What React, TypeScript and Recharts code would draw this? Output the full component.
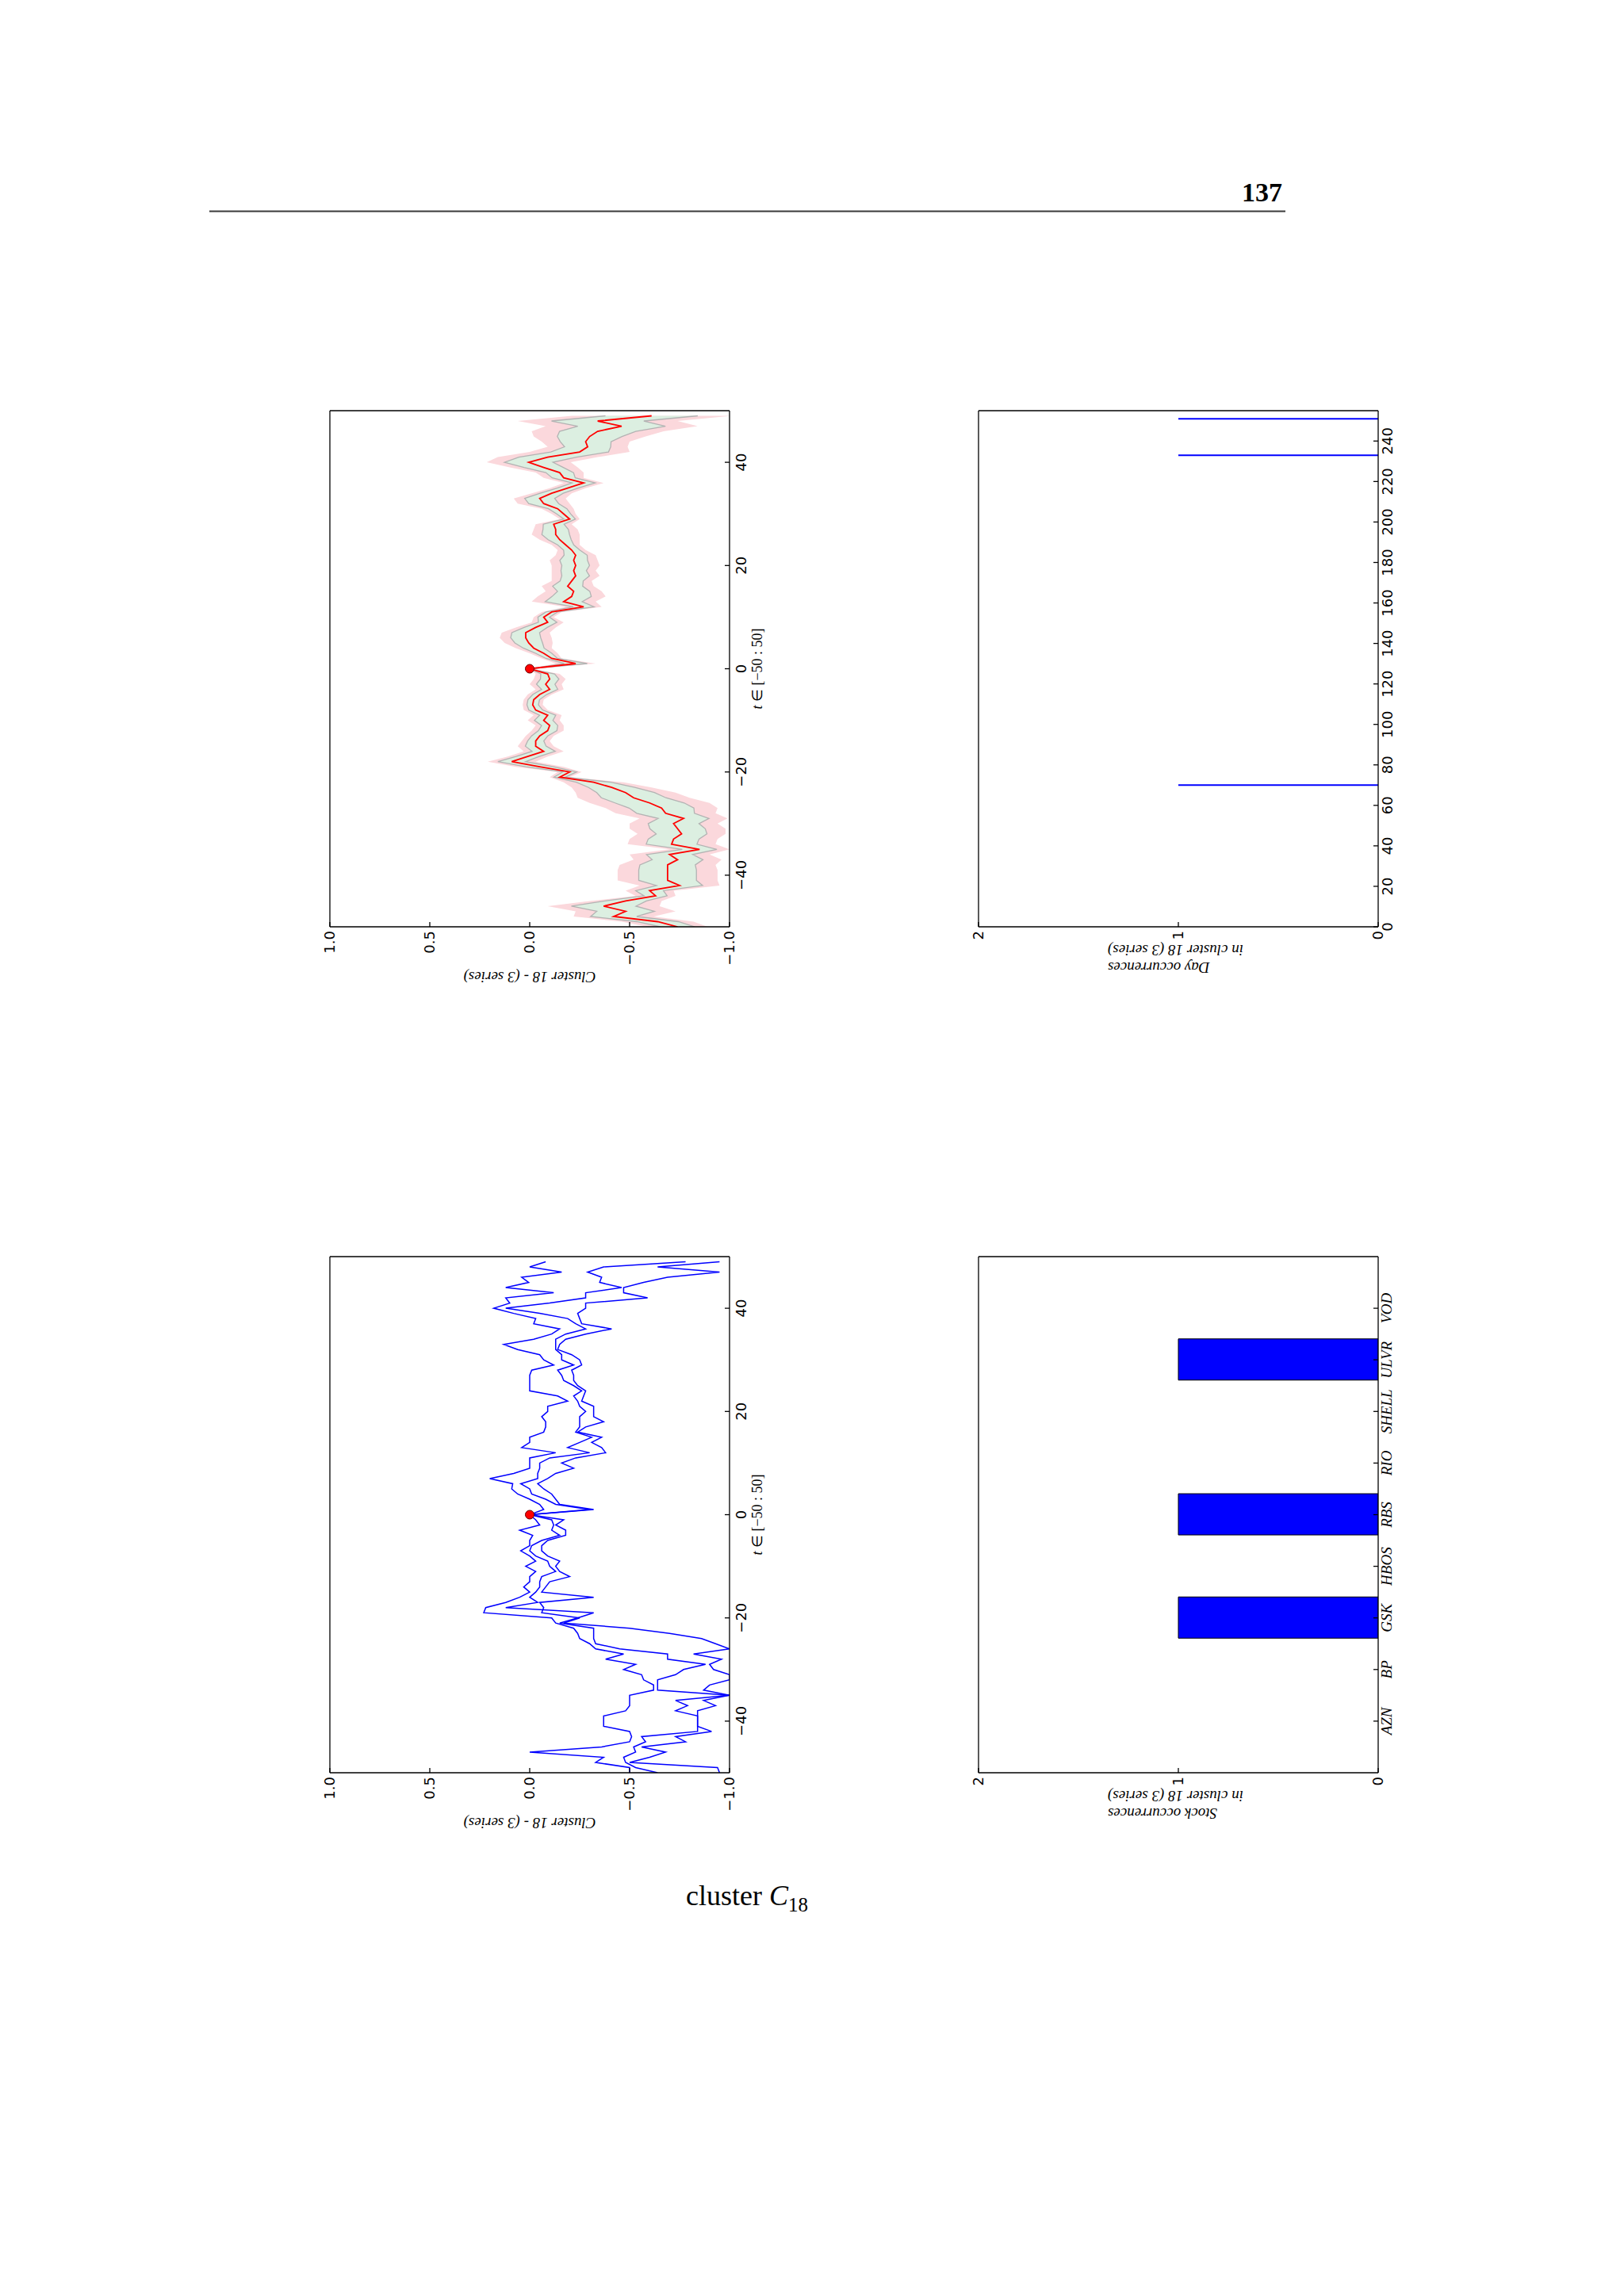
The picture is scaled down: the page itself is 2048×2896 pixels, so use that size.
import React from 'react';
import { ComposedChart, BarChart, Line, Area, Bar, XAxis, YAxis, ReferenceDot } from 'recharts';

// ---- data ----
const tSteps = [
  -50, -49, -48, -47, -46, -45, -44, -43, -42, -41,
  -40, -39, -38, -37, -36, -35, -34, -33, -32, -31,
  -30, -29, -28, -27, -26, -25, -24, -23, -22, -21,
  -20, -19, -18, -17, -16, -15, -14, -13, -12, -11,
  -10, -9, -8, -7, -6, -5, -4, -3, -2, -1,
  0, 1, 2, 3, 4, 5, 6, 7, 8, 9,
  10, 11, 12, 13, 14, 15, 16, 17, 18, 19,
  20, 21, 22, 23, 24, 25, 26, 27, 28, 29,
  30, 31, 32, 33, 34, 35, 36, 37, 38, 39,
  40, 41, 42, 43, 44, 45, 46, 47, 48, 49,
];

const clusterMean = [
  -0.74, -0.64, -0.42, -0.48, -0.37, -0.48, -0.63, -0.60, -0.75, -0.69,
  -0.69, -0.69, -0.69, -0.74, -0.70, -0.85, -0.71, -0.72, -0.76, -0.74,
  -0.72, -0.77, -0.68, -0.66, -0.60, -0.52, -0.48, -0.41, -0.32, -0.15,
  -0.20, -0.05, 0.09, 0.01, -0.07, -0.03, -0.03, -0.05, -0.09, -0.10,
  -0.07, -0.09, -0.03, -0.015, -0.02, -0.05, -0.10, -0.08, -0.10, -0.09,
  0, -0.23, -0.11, -0.07, -0.02, 0.005, 0.02, 0.02, -0.03, -0.09,
  -0.07, -0.11, -0.27, -0.17, -0.21, -0.22, -0.19, -0.21, -0.23, -0.22,
  -0.23, -0.22, -0.23, -0.21, -0.18, -0.15, -0.13, -0.13, -0.12, -0.20,
  -0.17, -0.14, -0.07, -0.05, -0.11, -0.19, -0.27, -0.17, -0.15, -0.07,
  0.005, -0.09, -0.25, -0.29, -0.28, -0.30, -0.34, -0.46, -0.34, -0.61,
];

const clusterStd = [
  0.15, 0.18, 0.20, 0.25, 0.28, 0.18, 0.10, 0.12, 0.20, 0.25,
  0.25, 0.25, 0.24, 0.22, 0.20, 0.15, 0.22, 0.22, 0.22, 0.24,
  0.22, 0.22, 0.25, 0.28, 0.30, 0.28, 0.25, 0.20, 0.15, 0.05,
  0.06, 0.12, 0.12, 0.10, 0.10, 0.09, 0.07, 0.07, 0.08, 0.07,
  0.08, 0.07, 0.06, 0.05, 0.05, 0.06, 0.07, 0.08, 0.08, 0.06,
  0, 0.10, 0.05, 0.07, 0.09, 0.12, 0.13, 0.12, 0.10, 0.08,
  0.05, 0.05, 0.09, 0.16, 0.17, 0.14, 0.13, 0.10, 0.12, 0.11,
  0.12, 0.12, 0.10, 0.07, 0.07, 0.10, 0.12, 0.11, 0.09, 0.05,
  0.06, 0.08, 0.13, 0.13, 0.10, 0.09, 0.10, 0.10, 0.12, 0.17,
  0.21, 0.25, 0.25, 0.20, 0.22, 0.28, 0.33, 0.38, 0.40, 0.40,
];

const seriesA = [
  -0.50, -0.50, -0.33, -0.37, 0.00, -0.36, -0.50, -0.51, -0.50, -0.37,
  -0.37, -0.37, -0.48, -0.50, -0.50, -0.50, -0.62, -0.62, -0.57, -0.56,
  -0.47, -0.53, -0.38, -0.47, -0.33, -0.30, -0.25, -0.24, -0.22, -0.13,
  -0.11, 0.23, 0.22, 0.12, 0.05, 0.00, 0.03, 0.00, 0.00, -0.03,
  0.02, -0.03, 0.00, 0.045, 0.00, 0.00, -0.015, 0.05, -0.05, -0.03,
  0, -0.07, -0.05, 0.00, 0.06, 0.09, 0.085, 0.20, 0.08, 0.00,
  0.00, 0.00, -0.13, 0.04, 0.00, 0.00, -0.07, -0.08, -0.08, -0.06,
  -0.09, -0.09, -0.19, -0.14, 0.00, 0.00, 0.00, 0.00, -0.01, -0.12,
  -0.07, -0.05, 0.06, 0.13, -0.02, -0.11, -0.15, -0.02, -0.03, 0.08,
  0.18, 0.10, 0.12, -0.12, 0.12, 0.005, 0.04, -0.16, 0.00, -0.08,
];

const seriesB = [
  -0.64, -0.53, -0.48, -0.47, -0.53, -0.52, -0.58, -0.56, -0.84, -0.84,
  -0.84, -0.84, -0.73, -0.79, -0.73, -1.00, -0.64, -0.64, -0.64, -0.73,
  -0.77, -0.88, -0.69, -0.69, -0.45, -0.33, -0.32, -0.32, -0.32, -0.15,
  -0.24, -0.32, 0.12, -0.04, 0.00, -0.03, -0.05, -0.05, -0.06, -0.13,
  -0.10, -0.09, -0.03, 0.00, -0.01, -0.06, -0.15, -0.11, -0.12, -0.11,
  0, -0.30, -0.13, -0.08, -0.01, 0.00, 0.045, -0.04, -0.04, -0.05,
  -0.05, -0.10, -0.30, -0.19, -0.25, -0.31, -0.23, -0.25, -0.25, -0.25,
  -0.28, -0.25, -0.24, -0.22, -0.26, -0.22, -0.17, -0.16, -0.14, -0.22,
  -0.16, -0.16, -0.13, -0.13, -0.13, -0.18, -0.28, -0.23, -0.19, -0.05,
  0.12, -0.10, -0.28, -0.28, -0.46, -0.35, -0.36, -0.29, -0.37, -0.78,
];

const seriesC = [
  -0.95, -0.94, -0.50, -0.60, -0.68, -0.56, -0.78, -0.73, -0.91, -0.84,
  -0.84, -0.84, -0.84, -0.93, -0.87, -1.00, -0.87, -0.90, -1.00, -1.00,
  -0.92, -0.90, -0.96, -0.82, -1.00, -0.93, -0.86, -0.70, -0.50, -0.17,
  -0.25, -0.06, -0.07, -0.05, -0.32, -0.06, -0.08, -0.10, -0.20, -0.15,
  -0.13, -0.15, -0.09, -0.06, -0.06, -0.09, -0.18, -0.18, -0.13, -0.17,
  0, -0.32, -0.15, -0.13, -0.11, -0.07, -0.04, -0.09, -0.13, -0.22,
  -0.16, -0.23, -0.38, -0.36, -0.31, -0.36, -0.24, -0.28, -0.37, -0.32,
  -0.32, -0.32, -0.26, -0.27, -0.28, -0.24, -0.22, -0.22, -0.21, -0.26,
  -0.25, -0.21, -0.14, -0.15, -0.18, -0.28, -0.41, -0.26, -0.25, -0.24,
  -0.28, -0.28, -0.59, -0.47, -0.47, -0.57, -0.69, -0.95, -0.64, -0.95,
];
const SERIES_COUNT = 3;

const occurrenceDays = [70, 233, 251];
const dayCounts = [1, 1, 1];

const stockNames = ['AZN', 'BP', 'GSK', 'HBOS', 'RBS', 'RIO', 'SHELL', 'ULVR', 'VOD'];
const stockCounts = [0, 0, 1, 0, 1, 0, 0, 1, 0];

const tTicks = [-40, -20, 0, 20, 40];
const valueTicks = [-1, -0.5, 0, 0.5, 1];
const dayTicks = [0, 20, 40, 60, 80, 100, 120, 140, 160, 180, 200, 220, 240];
const countTicks = [0, 1, 2];
const stockTicks = [0, 1, 2, 3, 4, 5, 6, 7, 8];

// rows for the library
const meanRows = tSteps.map((t, i) => {
  const m = clusterMean[i];
  const s = clusterStd[i];
  const se = s / Math.sqrt(SERIES_COUNT);
  return { t, mean: m, outer: [m - s, m + s], inner: [m - se, m + se], innerLo: m - se, innerHi: m + se };
});
const seriesRows = tSteps.map((t, i) => ({ t, a: seriesA[i], b: seriesB[i], c: seriesC[i] }));
const dayRows = occurrenceDays.map((d, i) => ({ day: d, count: dayCounts[i] }));
const stockRows = stockNames.map((n, i) => ({ idx: i, name: n, count: stockCounts[i] }));

// ---- geometry (chart drawn landscape, then turned a quarter turn) ----
const PLOT_W = 651;
const PLOT_H = 504;
const MARGIN = { top: 10, right: 10, bottom: 10, left: 20 };
const Y_W = 90;
const X_H = 70;
const PL = MARGIN.left + Y_W;
const PT = MARGIN.top;
const CW = PL + PLOT_W + MARGIN.right;
const CH = PT + PLOT_H + X_H + MARGIN.bottom;

const FRAME = { stroke: '#000', strokeWidth: 1.3 };
const NUM_TICK = { fontFamily: '"DejaVu Sans", sans-serif', fontSize: 18, fill: '#000' };
const NAME_TICK = { fontFamily: '"Liberation Serif", serif', fontSize: 19, fontStyle: 'italic', fill: '#000' };

const minus = (s: string) => s.replace('-', '\u2212');
const fmtInt = (v: number) => minus(String(v));
const fmtOne = (v: number) => minus(v.toFixed(1));
const fmtName = (v: number) => stockNames[v] ?? '';

function frameAxes(o: {
  dataKey: string;
  xDomain: number[];
  xTicks: number[];
  xFmt: (v: number) => string;
  xTick: any;
  xMargin: number;
  yDomain: number[];
  yTicks: number[];
  yFmt: (v: number) => string;
}) {
  return [
    <XAxis
      key="xb"
      dataKey={o.dataKey}
      type="number"
      domain={o.xDomain}
      ticks={o.xTicks}
      tickFormatter={o.xFmt}
      allowDataOverflow
      interval={0}
      height={X_H}
      axisLine={FRAME}
      tickLine={FRAME}
      tickSize={-6}
      tickMargin={o.xMargin}
      tick={o.xTick}
    />,
    <XAxis
      key="xt"
      xAxisId="top"
      orientation="top"
      type="number"
      domain={o.xDomain}
      ticks={o.xTicks}
      allowDataOverflow
      interval={0}
      mirror
      height={20}
      axisLine={FRAME}
      tickLine={FRAME}
      tickSize={6}
      tick={false}
    />,
    <YAxis
      key="yl"
      type="number"
      domain={o.yDomain}
      ticks={o.yTicks}
      tickFormatter={o.yFmt}
      allowDataOverflow
      interval={0}
      width={Y_W}
      axisLine={FRAME}
      tickLine={FRAME}
      tickSize={-6}
      tickMargin={11}
      tick={NUM_TICK}
    />,
    <YAxis
      key="yr"
      yAxisId="right"
      orientation="right"
      type="number"
      domain={o.yDomain}
      ticks={o.yTicks}
      allowDataOverflow
      interval={0}
      mirror
      width={20}
      axisLine={FRAME}
      tickLine={FRAME}
      tickSize={6}
      tick={false}
    />,
  ];
}

function Titles({ xTitle, yLines }: { xTitle?: boolean; yLines: string[] }) {
  const serif = '"Liberation Serif", serif';
  const cy = PT + PLOT_H / 2;
  return (
    <svg width={CW} height={CH} style={{ position: 'absolute', left: 0, top: 0, pointerEvents: 'none' }}>
      {xTitle && (
        <text x={PL + PLOT_W / 2} y={PT + PLOT_H + 41} textAnchor="middle" fontFamily={serif} fontSize={18} fill="#000">
          <tspan fontStyle="italic">t</tspan>
          {' \u2208 [\u221250 : 50]'}
        </text>
      )}
      {yLines.length === 1 ? (
        <text
          x={PL - 63}
          y={cy}
          transform={`rotate(-90 ${PL - 63} ${cy})`}
          textAnchor="middle"
          dominantBaseline="central"
          fontFamily={serif}
          fontStyle="italic"
          fontSize={19}
          fill="#000"
        >
          {yLines[0]}
        </text>
      ) : (
        yLines.map((line, i) => {
          const x = PL - 51 + i * 22;
          const y = PT + 163;
          return (
            <text
              key={line}
              x={x}
              y={y}
              transform={`rotate(-90 ${x} ${y})`}
              textAnchor="end"
              dominantBaseline="central"
              fontFamily={serif}
              fontStyle="italic"
              fontSize={19}
              fill="#000"
            >
              {line}
            </text>
          );
        })
      )}
    </svg>
  );
}

function Turned({ boxLeft, boxBottom, children }: { boxLeft: number; boxBottom: number; children: React.ReactNode }) {
  return (
    <div style={{ position: 'absolute', left: boxLeft - PT, top: boxBottom - (CW - PL), width: CH, height: CW }}>
      <div
        style={{
          position: 'absolute',
          left: 0,
          top: 0,
          width: CW,
          height: CH,
          transformOrigin: '0 0',
          transform: `translate(0px, ${CW}px) rotate(-90deg)`,
        }}
      >
        {children}
      </div>
    </div>
  );
}

const lineAxes = frameAxes({
  dataKey: 't',
  xDomain: [-50, 50],
  xTicks: tTicks,
  xFmt: fmtInt,
  xTick: NUM_TICK,
  xMargin: 14,
  yDomain: [-1, 1],
  yTicks: valueTicks,
  yFmt: fmtOne,
});

function MeanPanel() {
  return (
    <ComposedChart width={CW} height={CH} data={meanRows} margin={MARGIN}>
      {lineAxes}
      <Area dataKey="outer" type="linear" stroke="none" fill="#fbd8dc" fillOpacity={1} dot={false} activeDot={false} isAnimationActive={false} />
      <Area dataKey="inner" type="linear" stroke="none" fill="#dcefe1" fillOpacity={1} dot={false} activeDot={false} isAnimationActive={false} />
      <Line dataKey="innerLo" type="linear" stroke="#b3b3b3" strokeWidth={1.3} dot={false} activeDot={false} isAnimationActive={false} />
      <Line dataKey="innerHi" type="linear" stroke="#b3b3b3" strokeWidth={1.3} dot={false} activeDot={false} isAnimationActive={false} />
      <Line dataKey="mean" type="linear" stroke="#ff0000" strokeWidth={1.8} dot={false} activeDot={false} isAnimationActive={false} />
      <ReferenceDot x={0} y={0} r={5.5} fill="#ff0000" stroke="#6b0000" strokeWidth={1} />
    </ComposedChart>
  );
}

function SeriesPanel() {
  return (
    <ComposedChart width={CW} height={CH} data={seriesRows} margin={MARGIN}>
      {lineAxes}
      <Line dataKey="a" type="linear" stroke="#0000ff" strokeWidth={1.5} dot={false} activeDot={false} isAnimationActive={false} />
      <Line dataKey="b" type="linear" stroke="#0000ff" strokeWidth={1.5} dot={false} activeDot={false} isAnimationActive={false} />
      <Line dataKey="c" type="linear" stroke="#0000ff" strokeWidth={1.5} dot={false} activeDot={false} isAnimationActive={false} />
      <ReferenceDot x={0} y={0} r={5.5} fill="#ff0000" stroke="#6b0000" strokeWidth={1} />
    </ComposedChart>
  );
}

function DayPanel() {
  return (
    <BarChart width={CW} height={CH} data={dayRows} margin={MARGIN}>
      {frameAxes({
        dataKey: 'day',
        xDomain: [0, 255],
        xTicks: dayTicks,
        xFmt: fmtInt,
        xTick: NUM_TICK,
        xMargin: 11,
        yDomain: [0, 2],
        yTicks: countTicks,
        yFmt: (v: number) => String(v),
      })}
      <Bar dataKey="count" fill="#0000ff" barSize={2} isAnimationActive={false} />
    </BarChart>
  );
}

function StockPanel() {
  return (
    <BarChart width={CW} height={CH} data={stockRows} margin={MARGIN}>
      {frameAxes({
        dataKey: 'idx',
        xDomain: [-1, 9],
        xTicks: stockTicks,
        xFmt: fmtName,
        xTick: NAME_TICK,
        xMargin: 10,
        yDomain: [0, 2],
        yTicks: countTicks,
        yFmt: (v: number) => String(v),
      })}
      <Bar dataKey="count" fill="#0000ff" stroke="#000" strokeWidth={1} barSize={52} isAnimationActive={false} />
    </BarChart>
  );
}

export default function App() {
  return (
    <div style={{ position: 'absolute', left: 0, top: 0, width: 2048, height: 2896, background: '#fff', overflow: 'hidden' }}>
      <svg width={2048} height={2896} style={{ position: 'absolute', left: 0, top: 0 }}>
        <text x={1617} y={254} textAnchor="end" fontFamily='"Liberation Serif", serif' fontWeight="bold" fontSize={34} fill="#000">
          137
        </text>
        <rect x={264} y={265.5} width={1357} height={2} fill="#3a3a3a" />
        <text x={865} y={2403} fontFamily='"Liberation Serif", serif' fontSize={36} fill="#000">
          cluster{' '}
          <tspan fontStyle="italic">C</tspan>
          <tspan fontSize={25} dy={8}>18</tspan>
        </text>
      </svg>

      <Turned boxLeft={416} boxBottom={1169}>
        <MeanPanel />
        <Titles xTitle yLines={['Cluster 18 - (3 series)']} />
      </Turned>

      <Turned boxLeft={1234} boxBottom={1169}>
        <DayPanel />
        <Titles yLines={['Day occurrences', 'in cluster 18 (3 series)']} />
      </Turned>

      <Turned boxLeft={416} boxBottom={2236}>
        <SeriesPanel />
        <Titles xTitle yLines={['Cluster 18 - (3 series)']} />
      </Turned>

      <Turned boxLeft={1234} boxBottom={2236}>
        <StockPanel />
        <Titles yLines={['Stock occurrences', 'in cluster 18 (3 series)']} />
      </Turned>
    </div>
  );
}
